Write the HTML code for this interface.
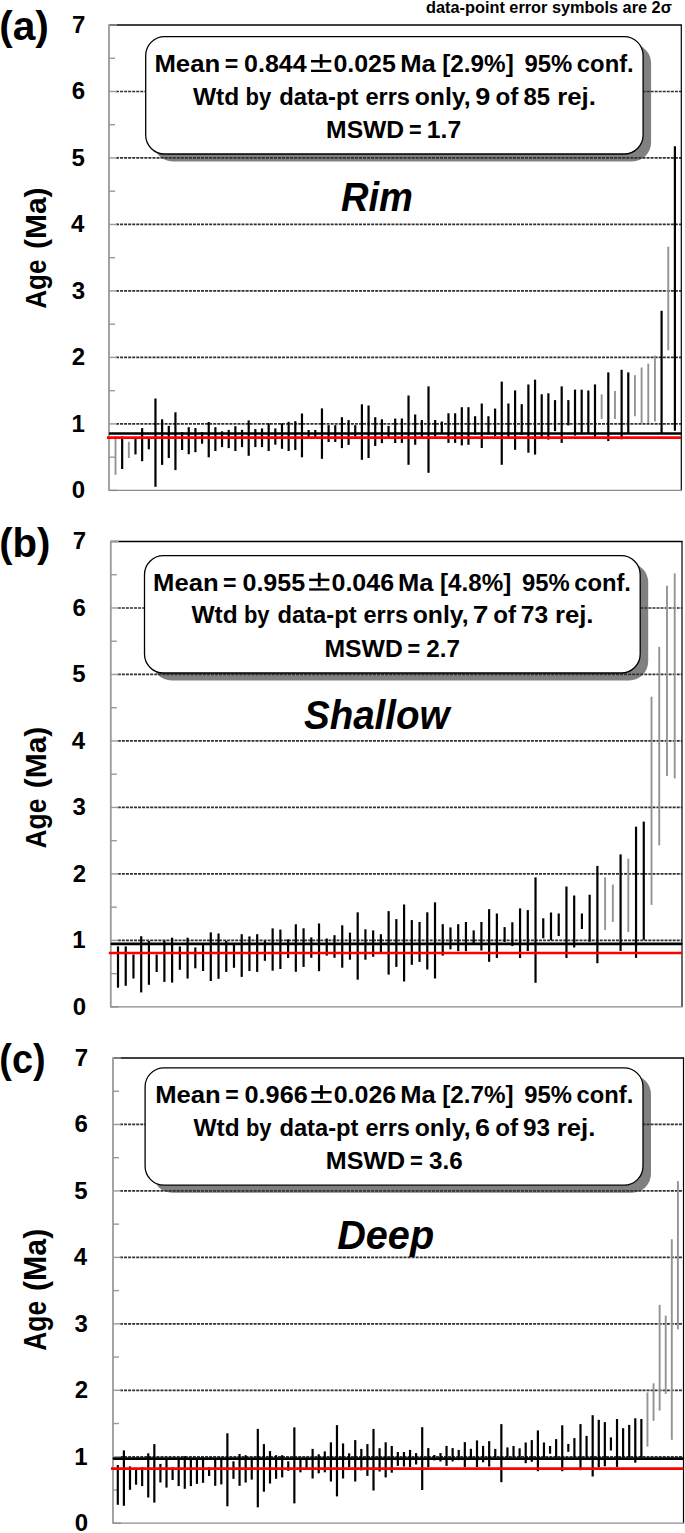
<!DOCTYPE html>
<html><head><meta charset="utf-8"><title>Isoplot weighted mean ages</title>
<style>
html,body{margin:0;padding:0;background:#fff;}
body{width:685px;height:1533px;overflow:hidden;font-family:"Liberation Sans", sans-serif;}
svg{display:block;}
</style></head><body>
<svg width="685" height="1533" viewBox="0 0 685 1533" font-family='"Liberation Sans", sans-serif' font-weight="bold">
<rect x="0" y="0" width="685" height="1533" fill="#fff"/>
<text transform="translate(426.05 13.3) scale(1.0324 1.0000)" font-size="15.8">data-point error symbols are 2σ</text>
<text transform="translate(-0.84 40.29) scale(0.9810 0.9999)" font-size="41.5">(a)</text>
<text transform="translate(46.41 308.75) rotate(-90) scale(0.8704 1)" font-size="29.95">Age</text>
<text transform="translate(46.41 249) rotate(-90) scale(1.0009 1)" font-size="29.95">(Ma)</text>
<text x="71.84" y="498.18" font-size="24">0</text>
<text x="71.48" y="431.69" font-size="24">1</text>
<text x="71.84" y="365.33" font-size="24">2</text>
<text x="71.72" y="298.72" font-size="24">3</text>
<text x="71" y="232.24" font-size="24">4</text>
<text x="71.48" y="165.63" font-size="24">5</text>
<text x="71.72" y="99.27" font-size="24">6</text>
<text x="71.96" y="32.78" font-size="24">7</text>
<rect x="153.7" y="44.1" width="497.4" height="117.4" rx="19" ry="19" fill="#808080"/>
<line x1="116" y1="423.91" x2="681.3" y2="423.91" stroke="#303030" stroke-width="1.7" stroke-dasharray="3 1.05"/>
<line x1="116" y1="357.43" x2="681.3" y2="357.43" stroke="#303030" stroke-width="1.7" stroke-dasharray="3 1.05"/>
<line x1="116" y1="290.94" x2="681.3" y2="290.94" stroke="#303030" stroke-width="1.7" stroke-dasharray="3 1.05"/>
<line x1="116" y1="224.46" x2="681.3" y2="224.46" stroke="#303030" stroke-width="1.7" stroke-dasharray="3 1.05"/>
<line x1="116" y1="157.97" x2="681.3" y2="157.97" stroke="#303030" stroke-width="1.7" stroke-dasharray="3 1.05"/>
<line x1="116" y1="91.49" x2="681.3" y2="91.49" stroke="#303030" stroke-width="1.7" stroke-dasharray="3 1.05"/>
<line x1="109" y1="25" x2="681.9" y2="25" stroke="#000" stroke-width="1.7"/>
<line x1="681.3" y1="25" x2="681.3" y2="490.4" stroke="#000" stroke-width="1.2"/>
<line x1="109" y1="490.4" x2="117" y2="490.4" stroke="#999" stroke-width="1.4"/>
<line x1="109" y1="457.16" x2="115" y2="457.16" stroke="#999" stroke-width="1.4"/>
<line x1="109" y1="423.91" x2="117" y2="423.91" stroke="#999" stroke-width="1.4"/>
<line x1="109" y1="390.67" x2="115" y2="390.67" stroke="#999" stroke-width="1.4"/>
<line x1="109" y1="357.43" x2="117" y2="357.43" stroke="#999" stroke-width="1.4"/>
<line x1="109" y1="324.19" x2="115" y2="324.19" stroke="#999" stroke-width="1.4"/>
<line x1="109" y1="290.94" x2="117" y2="290.94" stroke="#999" stroke-width="1.4"/>
<line x1="109" y1="257.7" x2="115" y2="257.7" stroke="#999" stroke-width="1.4"/>
<line x1="109" y1="224.46" x2="117" y2="224.46" stroke="#999" stroke-width="1.4"/>
<line x1="109" y1="191.21" x2="115" y2="191.21" stroke="#999" stroke-width="1.4"/>
<line x1="109" y1="157.97" x2="117" y2="157.97" stroke="#999" stroke-width="1.4"/>
<line x1="109" y1="124.73" x2="115" y2="124.73" stroke="#999" stroke-width="1.4"/>
<line x1="109" y1="91.49" x2="117" y2="91.49" stroke="#999" stroke-width="1.4"/>
<line x1="109" y1="58.24" x2="115" y2="58.24" stroke="#999" stroke-width="1.4"/>
<line x1="109" y1="25" x2="117" y2="25" stroke="#999" stroke-width="1.4"/>
<line x1="109" y1="24.2" x2="109" y2="491" stroke="#9a9a9a" stroke-width="1.8"/>
<line x1="109" y1="490.4" x2="681.9" y2="490.4" stroke="#8c8c8c" stroke-width="1.3"/>
<rect x="145.7" y="36.6" width="497.4" height="117.4" rx="19" ry="19" fill="#fff" stroke="#000" stroke-width="1.3"/>
<text transform="translate(154.43 72) scale(1.0455 1.0000)" font-size="24.6">Mean</text>
<text transform="translate(224.67 72) scale(0.9418 1.0000)" font-size="24.6">=</text>
<text transform="translate(244.1 72) scale(1.0150 1.0000)" font-size="24.6">0.844</text>
<rect x="311" y="60" width="20.3" height="2.5"/><rect x="319.75" y="54.2" width="2.8" height="13.7"/><rect x="311" y="69.7" width="20.3" height="2.3"/>
<text transform="translate(333.4 72) scale(1.0150 1.0000)" font-size="24.6">0.025</text>
<text transform="translate(400.13 72) scale(1.0414 1.0000)" font-size="24.6">Ma</text>
<text transform="translate(442.26 72) scale(0.9868 1.0000)" font-size="24.6">[2.9%]</text>
<text transform="translate(524.46 72) scale(0.9723 1.0000)" font-size="24.6">95%</text>
<text transform="translate(576.85 72) scale(0.9681 1.0000)" font-size="24.6">conf.</text>
<text transform="translate(193 104.7) scale(0.9962 1.0000)" font-size="24.6">Wtd</text>
<text transform="translate(245.57 104.7) scale(0.8947 1.0000)" font-size="24.6">by</text>
<text transform="translate(279.15 104.7) scale(0.9679 1.0000)" font-size="24.6">data-pt</text>
<text transform="translate(365.46 104.7) scale(0.9567 1.0000)" font-size="24.6">errs</text>
<text transform="translate(414.71 104.7) scale(1.0078 1.0000)" font-size="24.6">only,</text>
<text transform="translate(475.15 104.7) scale(1.0980 1.0000)" font-size="24.6">9</text>
<text transform="translate(495.53 104.7) scale(0.9837 1.0000)" font-size="24.6">of</text>
<text transform="translate(523.48 104.7) scale(0.9748 1.0000)" font-size="24.6">85</text>
<text transform="translate(557.23 104.7) scale(1.0474 1.0000)" font-size="24.6">rej.</text>
<text transform="translate(326.1 137.8) scale(1.0030 1.0000)" font-size="24.6">MSWD</text>
<text transform="translate(408.94 137.8) scale(0.8774 1.0000)" font-size="24.6">=</text>
<text transform="translate(426.79 137.8) scale(1.0067 1.0000)" font-size="24.6">1.7</text>
<text transform="translate(340.94 211.4) scale(0.9191 1.0000)" font-size="41.5" font-style="italic">Rim</text>
<line x1="115.5" y1="436" x2="115.5" y2="474.8" stroke="#939393" stroke-width="1.9"/>
<line x1="122.16" y1="436.4" x2="122.16" y2="469" stroke="#000" stroke-width="2.2"/>
<line x1="128.82" y1="441.8" x2="128.82" y2="458" stroke="#939393" stroke-width="1.9"/>
<line x1="135.48" y1="438.6" x2="135.48" y2="454.4" stroke="#000" stroke-width="2.2"/>
<line x1="142.14" y1="428.1" x2="142.14" y2="461.2" stroke="#000" stroke-width="2.2"/>
<line x1="148.8" y1="438.6" x2="148.8" y2="449.3" stroke="#000" stroke-width="2.2"/>
<line x1="155.46" y1="398.5" x2="155.46" y2="486.8" stroke="#000" stroke-width="2.2"/>
<line x1="162.12" y1="419.3" x2="162.12" y2="464.9" stroke="#000" stroke-width="2.2"/>
<line x1="168.78" y1="425.9" x2="168.78" y2="458" stroke="#000" stroke-width="2.2"/>
<line x1="175.44" y1="412.3" x2="175.44" y2="470.1" stroke="#000" stroke-width="2.2"/>
<line x1="182.1" y1="432" x2="182.1" y2="450" stroke="#000" stroke-width="2.2"/>
<line x1="188.75" y1="427.2" x2="188.75" y2="454.2" stroke="#000" stroke-width="2.2"/>
<line x1="195.41" y1="428.1" x2="195.41" y2="452.2" stroke="#000" stroke-width="2.2"/>
<line x1="202.07" y1="432" x2="202.07" y2="443.7" stroke="#000" stroke-width="2.2"/>
<line x1="208.73" y1="422" x2="208.73" y2="457.3" stroke="#000" stroke-width="2.2"/>
<line x1="215.39" y1="427.2" x2="215.39" y2="451" stroke="#000" stroke-width="2.2"/>
<line x1="222.05" y1="431.3" x2="222.05" y2="447.1" stroke="#000" stroke-width="2.2"/>
<line x1="228.71" y1="429.9" x2="228.71" y2="448.1" stroke="#000" stroke-width="2.2"/>
<line x1="235.37" y1="426.2" x2="235.37" y2="451" stroke="#000" stroke-width="2.2"/>
<line x1="242.03" y1="429.9" x2="242.03" y2="447.1" stroke="#000" stroke-width="2.2"/>
<line x1="248.69" y1="420.4" x2="248.69" y2="455.8" stroke="#000" stroke-width="2.2"/>
<line x1="255.35" y1="429.1" x2="255.35" y2="447.1" stroke="#000" stroke-width="2.2"/>
<line x1="262.01" y1="428.4" x2="262.01" y2="447.1" stroke="#000" stroke-width="2.2"/>
<line x1="268.67" y1="423.3" x2="268.67" y2="451" stroke="#000" stroke-width="2.2"/>
<line x1="275.33" y1="428.4" x2="275.33" y2="444.7" stroke="#000" stroke-width="2.2"/>
<line x1="281.99" y1="423.3" x2="281.99" y2="448.8" stroke="#000" stroke-width="2.2"/>
<line x1="288.65" y1="421.8" x2="288.65" y2="451" stroke="#000" stroke-width="2.2"/>
<line x1="295.31" y1="421.2" x2="295.31" y2="450" stroke="#000" stroke-width="2.2"/>
<line x1="301.97" y1="413.5" x2="301.97" y2="457.3" stroke="#000" stroke-width="2.2"/>
<line x1="308.63" y1="430" x2="308.63" y2="438" stroke="#000" stroke-width="2.2"/>
<line x1="315.29" y1="430" x2="315.29" y2="438" stroke="#000" stroke-width="2.2"/>
<line x1="321.95" y1="408.4" x2="321.95" y2="458.8" stroke="#000" stroke-width="2.2"/>
<line x1="328.6" y1="425.2" x2="328.6" y2="442" stroke="#000" stroke-width="2.2"/>
<line x1="335.26" y1="425.2" x2="335.26" y2="442" stroke="#000" stroke-width="2.2"/>
<line x1="341.92" y1="417.2" x2="341.92" y2="448.1" stroke="#000" stroke-width="2.2"/>
<line x1="348.58" y1="420.1" x2="348.58" y2="444.9" stroke="#000" stroke-width="2.2"/>
<line x1="355.24" y1="425.2" x2="355.24" y2="436.5" stroke="#000" stroke-width="2.2"/>
<line x1="361.9" y1="404.3" x2="361.9" y2="459.8" stroke="#000" stroke-width="2.2"/>
<line x1="368.56" y1="405.5" x2="368.56" y2="458" stroke="#000" stroke-width="2.2"/>
<line x1="375.22" y1="417.2" x2="375.22" y2="446" stroke="#000" stroke-width="2.2"/>
<line x1="381.88" y1="419.3" x2="381.88" y2="443.1" stroke="#000" stroke-width="2.2"/>
<line x1="388.54" y1="425.9" x2="388.54" y2="437.6" stroke="#000" stroke-width="2.2"/>
<line x1="395.2" y1="418.6" x2="395.2" y2="443" stroke="#000" stroke-width="2.2"/>
<line x1="401.86" y1="418.5" x2="401.86" y2="442.9" stroke="#000" stroke-width="2.2"/>
<line x1="408.52" y1="395.5" x2="408.52" y2="464.8" stroke="#000" stroke-width="2.2"/>
<line x1="415.18" y1="414.5" x2="415.18" y2="444.8" stroke="#000" stroke-width="2.2"/>
<line x1="421.84" y1="420" x2="421.84" y2="438.5" stroke="#000" stroke-width="2.2"/>
<line x1="428.5" y1="386.4" x2="428.5" y2="472.8" stroke="#000" stroke-width="2.2"/>
<line x1="435.16" y1="420" x2="435.16" y2="436.4" stroke="#000" stroke-width="2.2"/>
<line x1="441.82" y1="421.5" x2="441.82" y2="433.4" stroke="#000" stroke-width="2.2"/>
<line x1="448.48" y1="413.3" x2="448.48" y2="442.9" stroke="#000" stroke-width="2.2"/>
<line x1="455.14" y1="413.3" x2="455.14" y2="442.9" stroke="#000" stroke-width="2.2"/>
<line x1="461.8" y1="407.2" x2="461.8" y2="445.4" stroke="#000" stroke-width="2.2"/>
<line x1="468.45" y1="407.2" x2="468.45" y2="444.8" stroke="#000" stroke-width="2.2"/>
<line x1="475.11" y1="416.2" x2="475.11" y2="434.9" stroke="#000" stroke-width="2.2"/>
<line x1="481.77" y1="403.5" x2="481.77" y2="448" stroke="#000" stroke-width="2.2"/>
<line x1="488.43" y1="416.2" x2="488.43" y2="434.5" stroke="#000" stroke-width="2.2"/>
<line x1="495.09" y1="408.6" x2="495.09" y2="436.4" stroke="#000" stroke-width="2.2"/>
<line x1="501.75" y1="381.6" x2="501.75" y2="464.8" stroke="#000" stroke-width="2.2"/>
<line x1="508.41" y1="403.5" x2="508.41" y2="438.5" stroke="#000" stroke-width="2.2"/>
<line x1="515.07" y1="390.4" x2="515.07" y2="449.8" stroke="#000" stroke-width="2.2"/>
<line x1="521.73" y1="404.2" x2="521.73" y2="434.9" stroke="#000" stroke-width="2.2"/>
<line x1="528.39" y1="384.5" x2="528.39" y2="452.7" stroke="#000" stroke-width="2.2"/>
<line x1="535.05" y1="379.7" x2="535.05" y2="454.6" stroke="#000" stroke-width="2.2"/>
<line x1="541.71" y1="394.3" x2="541.71" y2="438.5" stroke="#000" stroke-width="2.2"/>
<line x1="548.37" y1="393.3" x2="548.37" y2="439.6" stroke="#000" stroke-width="2.2"/>
<line x1="555.03" y1="400.1" x2="555.03" y2="431.2" stroke="#000" stroke-width="2.2"/>
<line x1="561.69" y1="386.4" x2="561.69" y2="442.9" stroke="#000" stroke-width="2.2"/>
<line x1="568.35" y1="400.1" x2="568.35" y2="425.4" stroke="#000" stroke-width="2.2"/>
<line x1="575.01" y1="389.6" x2="575.01" y2="435.6" stroke="#000" stroke-width="2.2"/>
<line x1="581.67" y1="389.7" x2="581.67" y2="434.5" stroke="#000" stroke-width="2.2"/>
<line x1="588.33" y1="390.5" x2="588.33" y2="433.4" stroke="#000" stroke-width="2.2"/>
<line x1="594.99" y1="384.4" x2="594.99" y2="438.8" stroke="#000" stroke-width="2.2"/>
<line x1="601.65" y1="394.3" x2="601.65" y2="418.9" stroke="#939393" stroke-width="1.9"/>
<line x1="608.3" y1="372.4" x2="608.3" y2="441.1" stroke="#000" stroke-width="2.2"/>
<line x1="614.96" y1="391" x2="614.96" y2="418.9" stroke="#939393" stroke-width="1.9"/>
<line x1="621.62" y1="369.8" x2="621.62" y2="439.3" stroke="#000" stroke-width="2.2"/>
<line x1="628.28" y1="372.4" x2="628.28" y2="433.4" stroke="#000" stroke-width="2.2"/>
<line x1="634.94" y1="375.2" x2="634.94" y2="416.3" stroke="#939393" stroke-width="1.9"/>
<line x1="641.6" y1="367.5" x2="641.6" y2="423" stroke="#939393" stroke-width="1.9"/>
<line x1="648.26" y1="363.7" x2="648.26" y2="423" stroke="#939393" stroke-width="1.9"/>
<line x1="654.92" y1="355.6" x2="654.92" y2="421.5" stroke="#939393" stroke-width="1.9"/>
<line x1="661.58" y1="310.8" x2="661.58" y2="433.4" stroke="#000" stroke-width="2.2"/>
<line x1="668.24" y1="246.7" x2="668.24" y2="350.3" stroke="#939393" stroke-width="1.9"/>
<line x1="674.9" y1="146.2" x2="674.9" y2="430.7" stroke="#000" stroke-width="2.2"/>
<line x1="110" y1="433.5" x2="680.5" y2="433.5" stroke="#000" stroke-width="2.5" stroke-linecap="round"/>
<line x1="107" y1="437.6" x2="681.3" y2="437.6" stroke="#f00" stroke-width="2.7"/>
<text transform="translate(-0.81 556.73) scale(0.9679 0.9948)" font-size="41.5">(b)</text>
<text transform="translate(46.07 848.46) rotate(-90) scale(0.8733 1)" font-size="30.16">Age</text>
<text transform="translate(46.07 788.3) rotate(-90) scale(0.9938 1)" font-size="30.16">(Ma)</text>
<text x="72.64" y="1014.68" font-size="24">0</text>
<text x="72.28" y="948.19" font-size="24">1</text>
<text x="72.64" y="881.83" font-size="24">2</text>
<text x="72.52" y="815.22" font-size="24">3</text>
<text x="71.8" y="748.74" font-size="24">4</text>
<text x="72.28" y="682.13" font-size="24">5</text>
<text x="72.52" y="615.77" font-size="24">6</text>
<text x="72.76" y="549.28" font-size="24">7</text>
<rect x="152.5" y="563.2" width="495.7" height="117.3" rx="19" ry="19" fill="#808080"/>
<line x1="117.8" y1="940.41" x2="682" y2="940.41" stroke="#303030" stroke-width="1.7" stroke-dasharray="3 1.05"/>
<line x1="117.8" y1="873.93" x2="682" y2="873.93" stroke="#303030" stroke-width="1.7" stroke-dasharray="3 1.05"/>
<line x1="117.8" y1="807.44" x2="682" y2="807.44" stroke="#303030" stroke-width="1.7" stroke-dasharray="3 1.05"/>
<line x1="117.8" y1="740.96" x2="682" y2="740.96" stroke="#303030" stroke-width="1.7" stroke-dasharray="3 1.05"/>
<line x1="117.8" y1="674.47" x2="682" y2="674.47" stroke="#303030" stroke-width="1.7" stroke-dasharray="3 1.05"/>
<line x1="117.8" y1="607.99" x2="682" y2="607.99" stroke="#303030" stroke-width="1.7" stroke-dasharray="3 1.05"/>
<line x1="110.8" y1="541.5" x2="682.6" y2="541.5" stroke="#000" stroke-width="1.7"/>
<line x1="682" y1="541.5" x2="682" y2="1006.9" stroke="#000" stroke-width="1.2"/>
<line x1="110.8" y1="1006.9" x2="118.8" y2="1006.9" stroke="#999" stroke-width="1.4"/>
<line x1="110.8" y1="973.66" x2="116.8" y2="973.66" stroke="#999" stroke-width="1.4"/>
<line x1="110.8" y1="940.41" x2="118.8" y2="940.41" stroke="#999" stroke-width="1.4"/>
<line x1="110.8" y1="907.17" x2="116.8" y2="907.17" stroke="#999" stroke-width="1.4"/>
<line x1="110.8" y1="873.93" x2="118.8" y2="873.93" stroke="#999" stroke-width="1.4"/>
<line x1="110.8" y1="840.69" x2="116.8" y2="840.69" stroke="#999" stroke-width="1.4"/>
<line x1="110.8" y1="807.44" x2="118.8" y2="807.44" stroke="#999" stroke-width="1.4"/>
<line x1="110.8" y1="774.2" x2="116.8" y2="774.2" stroke="#999" stroke-width="1.4"/>
<line x1="110.8" y1="740.96" x2="118.8" y2="740.96" stroke="#999" stroke-width="1.4"/>
<line x1="110.8" y1="707.71" x2="116.8" y2="707.71" stroke="#999" stroke-width="1.4"/>
<line x1="110.8" y1="674.47" x2="118.8" y2="674.47" stroke="#999" stroke-width="1.4"/>
<line x1="110.8" y1="641.23" x2="116.8" y2="641.23" stroke="#999" stroke-width="1.4"/>
<line x1="110.8" y1="607.99" x2="118.8" y2="607.99" stroke="#999" stroke-width="1.4"/>
<line x1="110.8" y1="574.74" x2="116.8" y2="574.74" stroke="#999" stroke-width="1.4"/>
<line x1="110.8" y1="541.5" x2="118.8" y2="541.5" stroke="#999" stroke-width="1.4"/>
<line x1="110.8" y1="540.7" x2="110.8" y2="1007.5" stroke="#9a9a9a" stroke-width="1.8"/>
<line x1="110.8" y1="1006.9" x2="682.6" y2="1006.9" stroke="#8c8c8c" stroke-width="1.3"/>
<rect x="144.5" y="555.7" width="495.7" height="117.3" rx="19" ry="19" fill="#fff" stroke="#000" stroke-width="1.3"/>
<text transform="translate(153.03 590.6) scale(1.0425 1.0000)" font-size="24.6">Mean</text>
<text transform="translate(223.07 590.6) scale(0.9390 1.0000)" font-size="24.6">=</text>
<text transform="translate(242.43 590.6) scale(1.0203 1.0000)" font-size="24.6">0.955</text>
<rect x="309.14" y="578.6" width="20.24" height="2.5"/><rect x="317.86" y="572.8" width="2.8" height="13.7"/><rect x="309.14" y="588.3" width="20.24" height="2.3"/>
<text transform="translate(331.48 590.6) scale(1.0162 1.0000)" font-size="24.6">0.046</text>
<text transform="translate(398.02 590.6) scale(1.0383 1.0000)" font-size="24.6">Ma</text>
<text transform="translate(440.02 590.6) scale(0.9839 1.0000)" font-size="24.6">[4.8%]</text>
<text transform="translate(521.98 590.6) scale(0.9694 1.0000)" font-size="24.6">95%</text>
<text transform="translate(574.21 590.6) scale(0.9653 1.0000)" font-size="24.6">conf.</text>
<text transform="translate(191.5 623.4) scale(0.9939 1.0000)" font-size="24.6">Wtd</text>
<text transform="translate(243.95 623.4) scale(0.8927 1.0000)" font-size="24.6">by</text>
<text transform="translate(277.45 623.4) scale(0.9658 1.0000)" font-size="24.6">data-pt</text>
<text transform="translate(363.57 623.4) scale(0.9546 1.0000)" font-size="24.6">errs</text>
<text transform="translate(412.71 623.4) scale(1.0055 1.0000)" font-size="24.6">only,</text>
<text transform="translate(472.7 623.4) scale(1.1426 1.0000)" font-size="24.6">7</text>
<text transform="translate(493.35 623.4) scale(0.9815 1.0000)" font-size="24.6">of</text>
<text transform="translate(520.85 623.4) scale(0.9963 1.0000)" font-size="24.6">73</text>
<text transform="translate(554.91 623.4) scale(1.0451 1.0000)" font-size="24.6">rej.</text>
<text transform="translate(324.49 656.5) scale(1.0060 1.0000)" font-size="24.6">MSWD</text>
<text transform="translate(407.58 656.5) scale(0.8801 1.0000)" font-size="24.6">=</text>
<text transform="translate(426.25 656.5) scale(0.9866 1.0000)" font-size="24.6">2.7</text>
<text transform="translate(303.92 729.4) scale(0.9291 1.0000)" font-size="41.5" font-style="italic">Shallow</text>
<line x1="118" y1="946.4" x2="118" y2="987.7" stroke="#000" stroke-width="2.2"/>
<line x1="125.73" y1="946.4" x2="125.73" y2="985.8" stroke="#000" stroke-width="2.2"/>
<line x1="133.46" y1="954.5" x2="133.46" y2="978.5" stroke="#000" stroke-width="2.2"/>
<line x1="141.2" y1="936.2" x2="141.2" y2="992.4" stroke="#000" stroke-width="2.2"/>
<line x1="148.93" y1="941" x2="148.93" y2="984.8" stroke="#000" stroke-width="2.2"/>
<line x1="156.66" y1="954.5" x2="156.66" y2="972" stroke="#000" stroke-width="2.2"/>
<line x1="164.39" y1="940.6" x2="164.39" y2="981.9" stroke="#000" stroke-width="2.2"/>
<line x1="172.12" y1="937.7" x2="172.12" y2="982.6" stroke="#000" stroke-width="2.2"/>
<line x1="179.86" y1="946.4" x2="179.86" y2="969.8" stroke="#000" stroke-width="2.2"/>
<line x1="187.59" y1="937.7" x2="187.59" y2="978.5" stroke="#000" stroke-width="2.2"/>
<line x1="195.32" y1="947.4" x2="195.32" y2="968.3" stroke="#000" stroke-width="2.2"/>
<line x1="203.05" y1="945" x2="203.05" y2="971" stroke="#000" stroke-width="2.2"/>
<line x1="210.78" y1="932.4" x2="210.78" y2="981" stroke="#000" stroke-width="2.2"/>
<line x1="218.52" y1="933.5" x2="218.52" y2="978.8" stroke="#000" stroke-width="2.2"/>
<line x1="226.25" y1="940.8" x2="226.25" y2="971.9" stroke="#000" stroke-width="2.2"/>
<line x1="233.98" y1="944.5" x2="233.98" y2="967.8" stroke="#000" stroke-width="2.2"/>
<line x1="241.71" y1="934.2" x2="241.71" y2="976.9" stroke="#000" stroke-width="2.2"/>
<line x1="249.44" y1="936.4" x2="249.44" y2="971" stroke="#000" stroke-width="2.2"/>
<line x1="257.18" y1="934.2" x2="257.18" y2="971.9" stroke="#000" stroke-width="2.2"/>
<line x1="264.91" y1="940.8" x2="264.91" y2="960.8" stroke="#000" stroke-width="2.2"/>
<line x1="272.64" y1="928.4" x2="272.64" y2="970.7" stroke="#000" stroke-width="2.2"/>
<line x1="280.37" y1="929.6" x2="280.37" y2="969" stroke="#000" stroke-width="2.2"/>
<line x1="288.1" y1="939.3" x2="288.1" y2="958" stroke="#000" stroke-width="2.2"/>
<line x1="295.83" y1="924.3" x2="295.83" y2="971.8" stroke="#000" stroke-width="2.2"/>
<line x1="303.57" y1="928.3" x2="303.57" y2="966.9" stroke="#000" stroke-width="2.2"/>
<line x1="311.3" y1="937.4" x2="311.3" y2="957.8" stroke="#000" stroke-width="2.2"/>
<line x1="319.03" y1="923.5" x2="319.03" y2="971.2" stroke="#000" stroke-width="2.2"/>
<line x1="326.76" y1="938.5" x2="326.76" y2="955.6" stroke="#000" stroke-width="2.2"/>
<line x1="334.49" y1="935.2" x2="334.49" y2="957.8" stroke="#000" stroke-width="2.2"/>
<line x1="342.23" y1="925.3" x2="342.23" y2="967.7" stroke="#000" stroke-width="2.2"/>
<line x1="349.96" y1="932.6" x2="349.96" y2="959.7" stroke="#000" stroke-width="2.2"/>
<line x1="357.69" y1="912.3" x2="357.69" y2="979.7" stroke="#000" stroke-width="2.2"/>
<line x1="365.42" y1="929.3" x2="365.42" y2="959.7" stroke="#000" stroke-width="2.2"/>
<line x1="373.15" y1="930.4" x2="373.15" y2="956.8" stroke="#000" stroke-width="2.2"/>
<line x1="380.89" y1="934.2" x2="380.89" y2="952.6" stroke="#000" stroke-width="2.2"/>
<line x1="388.62" y1="911.1" x2="388.62" y2="974.6" stroke="#000" stroke-width="2.2"/>
<line x1="396.35" y1="919.1" x2="396.35" y2="966.9" stroke="#000" stroke-width="2.2"/>
<line x1="404.08" y1="904.5" x2="404.08" y2="981.5" stroke="#000" stroke-width="2.2"/>
<line x1="411.81" y1="920.1" x2="411.81" y2="964.8" stroke="#000" stroke-width="2.2"/>
<line x1="419.55" y1="922" x2="419.55" y2="961.9" stroke="#000" stroke-width="2.2"/>
<line x1="427.28" y1="912.3" x2="427.28" y2="969.5" stroke="#000" stroke-width="2.2"/>
<line x1="435.01" y1="902.3" x2="435.01" y2="978.5" stroke="#000" stroke-width="2.2"/>
<line x1="442.74" y1="924.2" x2="442.74" y2="955.6" stroke="#000" stroke-width="2.2"/>
<line x1="450.47" y1="927.4" x2="450.47" y2="949.3" stroke="#000" stroke-width="2.2"/>
<line x1="458.21" y1="924.2" x2="458.21" y2="951.2" stroke="#000" stroke-width="2.2"/>
<line x1="465.94" y1="922" x2="465.94" y2="951.2" stroke="#000" stroke-width="2.2"/>
<line x1="473.67" y1="930.4" x2="473.67" y2="944" stroke="#000" stroke-width="2.2"/>
<line x1="481.4" y1="922" x2="481.4" y2="950.5" stroke="#000" stroke-width="2.2"/>
<line x1="489.13" y1="909.2" x2="489.13" y2="961.8" stroke="#000" stroke-width="2.2"/>
<line x1="496.87" y1="913.5" x2="496.87" y2="958" stroke="#000" stroke-width="2.2"/>
<line x1="504.6" y1="927.1" x2="504.6" y2="942" stroke="#000" stroke-width="2.2"/>
<line x1="512.33" y1="922.3" x2="512.33" y2="946.1" stroke="#000" stroke-width="2.2"/>
<line x1="520.06" y1="908.4" x2="520.06" y2="958" stroke="#000" stroke-width="2.2"/>
<line x1="527.79" y1="910.1" x2="527.79" y2="951" stroke="#000" stroke-width="2.2"/>
<line x1="535.53" y1="877.4" x2="535.53" y2="982.8" stroke="#000" stroke-width="2.2"/>
<line x1="543.26" y1="918.3" x2="543.26" y2="938.3" stroke="#000" stroke-width="2.2"/>
<line x1="550.99" y1="912.5" x2="550.99" y2="940.2" stroke="#000" stroke-width="2.2"/>
<line x1="558.72" y1="913.5" x2="558.72" y2="936.1" stroke="#000" stroke-width="2.2"/>
<line x1="566.45" y1="886.5" x2="566.45" y2="958" stroke="#000" stroke-width="2.2"/>
<line x1="574.18" y1="895.5" x2="574.18" y2="947.5" stroke="#000" stroke-width="2.2"/>
<line x1="581.92" y1="913.5" x2="581.92" y2="929" stroke="#000" stroke-width="2.2"/>
<line x1="589.65" y1="894.7" x2="589.65" y2="941.8" stroke="#000" stroke-width="2.2"/>
<line x1="597.38" y1="865.9" x2="597.38" y2="963.2" stroke="#000" stroke-width="2.2"/>
<line x1="605.11" y1="877.4" x2="605.11" y2="930" stroke="#939393" stroke-width="1.9"/>
<line x1="612.84" y1="884.6" x2="612.84" y2="921.9" stroke="#939393" stroke-width="1.9"/>
<line x1="620.58" y1="854.4" x2="620.58" y2="951" stroke="#000" stroke-width="2.2"/>
<line x1="628.31" y1="858.6" x2="628.31" y2="932.1" stroke="#939393" stroke-width="1.9"/>
<line x1="636.04" y1="826.7" x2="636.04" y2="957.9" stroke="#000" stroke-width="2.2"/>
<line x1="643.77" y1="821.6" x2="643.77" y2="939.8" stroke="#000" stroke-width="2.2"/>
<line x1="651.5" y1="696.7" x2="651.5" y2="904.9" stroke="#939393" stroke-width="1.9"/>
<line x1="659.24" y1="646.9" x2="659.24" y2="845.3" stroke="#939393" stroke-width="1.9"/>
<line x1="666.97" y1="585.8" x2="666.97" y2="776.1" stroke="#939393" stroke-width="1.9"/>
<line x1="674.7" y1="573.4" x2="674.7" y2="778.4" stroke="#939393" stroke-width="1.9"/>
<line x1="111.8" y1="943.9" x2="681.2" y2="943.9" stroke="#000" stroke-width="2.6" stroke-linecap="round"/>
<line x1="108.8" y1="953" x2="682" y2="953" stroke="#f00" stroke-width="2.7"/>
<text transform="translate(-0.69 1072.69) scale(0.9124 0.9999)" font-size="41.5">(c)</text>
<text transform="translate(45.91 1350.66) rotate(-90) scale(0.8521 1)" font-size="30.91">Age</text>
<text transform="translate(45.91 1291.02) rotate(-90) scale(0.9813 1)" font-size="30.91">(Ma)</text>
<text x="74.64" y="1530.98" font-size="24">0</text>
<text x="74.28" y="1464.52" font-size="24">1</text>
<text x="74.64" y="1398.19" font-size="24">2</text>
<text x="74.52" y="1331.61" font-size="24">3</text>
<text x="73.8" y="1265.15" font-size="24">4</text>
<text x="74.28" y="1198.57" font-size="24">5</text>
<text x="74.52" y="1132.24" font-size="24">6</text>
<text x="74.76" y="1065.78" font-size="24">7</text>
<rect x="153.1" y="1075.3" width="497.9" height="117.4" rx="19" ry="19" fill="#808080"/>
<line x1="120" y1="1456.74" x2="683.5" y2="1456.74" stroke="#303030" stroke-width="1.7" stroke-dasharray="3 1.05"/>
<line x1="120" y1="1390.29" x2="683.5" y2="1390.29" stroke="#303030" stroke-width="1.7" stroke-dasharray="3 1.05"/>
<line x1="120" y1="1323.83" x2="683.5" y2="1323.83" stroke="#303030" stroke-width="1.7" stroke-dasharray="3 1.05"/>
<line x1="120" y1="1257.37" x2="683.5" y2="1257.37" stroke="#303030" stroke-width="1.7" stroke-dasharray="3 1.05"/>
<line x1="120" y1="1190.91" x2="683.5" y2="1190.91" stroke="#303030" stroke-width="1.7" stroke-dasharray="3 1.05"/>
<line x1="120" y1="1124.46" x2="683.5" y2="1124.46" stroke="#303030" stroke-width="1.7" stroke-dasharray="3 1.05"/>
<line x1="113" y1="1058" x2="684.1" y2="1058" stroke="#000" stroke-width="1.7"/>
<line x1="683.5" y1="1058" x2="683.5" y2="1523.2" stroke="#000" stroke-width="1.2"/>
<line x1="113" y1="1523.2" x2="121" y2="1523.2" stroke="#999" stroke-width="1.4"/>
<line x1="113" y1="1489.97" x2="119" y2="1489.97" stroke="#999" stroke-width="1.4"/>
<line x1="113" y1="1456.74" x2="121" y2="1456.74" stroke="#999" stroke-width="1.4"/>
<line x1="113" y1="1423.51" x2="119" y2="1423.51" stroke="#999" stroke-width="1.4"/>
<line x1="113" y1="1390.29" x2="121" y2="1390.29" stroke="#999" stroke-width="1.4"/>
<line x1="113" y1="1357.06" x2="119" y2="1357.06" stroke="#999" stroke-width="1.4"/>
<line x1="113" y1="1323.83" x2="121" y2="1323.83" stroke="#999" stroke-width="1.4"/>
<line x1="113" y1="1290.6" x2="119" y2="1290.6" stroke="#999" stroke-width="1.4"/>
<line x1="113" y1="1257.37" x2="121" y2="1257.37" stroke="#999" stroke-width="1.4"/>
<line x1="113" y1="1224.14" x2="119" y2="1224.14" stroke="#999" stroke-width="1.4"/>
<line x1="113" y1="1190.91" x2="121" y2="1190.91" stroke="#999" stroke-width="1.4"/>
<line x1="113" y1="1157.69" x2="119" y2="1157.69" stroke="#999" stroke-width="1.4"/>
<line x1="113" y1="1124.46" x2="121" y2="1124.46" stroke="#999" stroke-width="1.4"/>
<line x1="113" y1="1091.23" x2="119" y2="1091.23" stroke="#999" stroke-width="1.4"/>
<line x1="113" y1="1058" x2="121" y2="1058" stroke="#999" stroke-width="1.4"/>
<line x1="113" y1="1057.2" x2="113" y2="1523.8" stroke="#9a9a9a" stroke-width="1.8"/>
<line x1="113" y1="1523.2" x2="684.1" y2="1523.2" stroke="#8c8c8c" stroke-width="1.3"/>
<rect x="145.1" y="1067.8" width="497.9" height="117.4" rx="19" ry="19" fill="#fff" stroke="#000" stroke-width="1.3"/>
<text transform="translate(155.13 1103) scale(1.0431 1.0000)" font-size="24.6">Mean</text>
<text transform="translate(225.21 1103) scale(0.9396 1.0000)" font-size="24.6">=</text>
<text transform="translate(244.59 1103) scale(1.0252 1.0000)" font-size="24.6">0.966</text>
<rect x="311.34" y="1091" width="20.25" height="2.5"/><rect x="320.07" y="1085.2" width="2.8" height="13.7"/><rect x="311.34" y="1100.7" width="20.25" height="2.3"/>
<text transform="translate(333.69 1103) scale(1.0168 1.0000)" font-size="24.6">0.026</text>
<text transform="translate(400.27 1103) scale(1.0390 1.0000)" font-size="24.6">Ma</text>
<text transform="translate(442.3 1103) scale(0.9845 1.0000)" font-size="24.6">[2.7%]</text>
<text transform="translate(524.31 1103) scale(0.9700 1.0000)" font-size="24.6">95%</text>
<text transform="translate(576.58 1103) scale(0.9659 1.0000)" font-size="24.6">conf.</text>
<text transform="translate(193.5 1135.7) scale(0.9937 1.0000)" font-size="24.6">Wtd</text>
<text transform="translate(245.94 1135.7) scale(0.8925 1.0000)" font-size="24.6">by</text>
<text transform="translate(279.43 1135.7) scale(0.9655 1.0000)" font-size="24.6">data-pt</text>
<text transform="translate(365.53 1135.7) scale(0.9544 1.0000)" font-size="24.6">errs</text>
<text transform="translate(414.66 1135.7) scale(1.0052 1.0000)" font-size="24.6">only,</text>
<text transform="translate(474.95 1135.7) scale(1.0952 1.0000)" font-size="24.6">6</text>
<text transform="translate(495.28 1135.7) scale(0.9812 1.0000)" font-size="24.6">of</text>
<text transform="translate(523.03 1135.7) scale(0.9864 1.0000)" font-size="24.6">93</text>
<text transform="translate(556.82 1135.7) scale(1.0448 1.0000)" font-size="24.6">rej.</text>
<text transform="translate(325.77 1169) scale(1.0189 1.0000)" font-size="24.6">MSWD</text>
<text transform="translate(409.93 1169) scale(0.8913 1.0000)" font-size="24.6">=</text>
<text transform="translate(429.09 1169) scale(0.9843 1.0000)" font-size="24.6">3.6</text>
<text transform="translate(337.21 1249) scale(0.9548 1.0000)" font-size="41.5" font-style="italic">Deep</text>
<line x1="117.8" y1="1465" x2="117.8" y2="1504.8" stroke="#000" stroke-width="2.2"/>
<line x1="123.89" y1="1450.4" x2="123.89" y2="1505.8" stroke="#000" stroke-width="2.2"/>
<line x1="129.98" y1="1466.4" x2="129.98" y2="1489.8" stroke="#000" stroke-width="2.2"/>
<line x1="136.06" y1="1469" x2="136.06" y2="1484.7" stroke="#000" stroke-width="2.2"/>
<line x1="142.15" y1="1467.4" x2="142.15" y2="1486.1" stroke="#000" stroke-width="2.2"/>
<line x1="148.24" y1="1453.3" x2="148.24" y2="1497.5" stroke="#000" stroke-width="2.2"/>
<line x1="154.33" y1="1444.1" x2="154.33" y2="1502.6" stroke="#000" stroke-width="2.2"/>
<line x1="160.42" y1="1463.9" x2="160.42" y2="1482.5" stroke="#000" stroke-width="2.2"/>
<line x1="166.5" y1="1459.1" x2="166.5" y2="1487.6" stroke="#000" stroke-width="2.2"/>
<line x1="172.59" y1="1467.4" x2="172.59" y2="1480" stroke="#000" stroke-width="2.2"/>
<line x1="178.68" y1="1459.1" x2="178.68" y2="1486.1" stroke="#000" stroke-width="2.2"/>
<line x1="184.77" y1="1456.2" x2="184.77" y2="1488.8" stroke="#000" stroke-width="2.2"/>
<line x1="190.86" y1="1459.1" x2="190.86" y2="1486.1" stroke="#000" stroke-width="2.2"/>
<line x1="196.94" y1="1459.1" x2="196.94" y2="1483.9" stroke="#000" stroke-width="2.2"/>
<line x1="203.03" y1="1459.1" x2="203.03" y2="1482.8" stroke="#000" stroke-width="2.2"/>
<line x1="209.12" y1="1467.4" x2="209.12" y2="1476" stroke="#000" stroke-width="2.2"/>
<line x1="215.21" y1="1458.4" x2="215.21" y2="1485.8" stroke="#000" stroke-width="2.2"/>
<line x1="221.3" y1="1458.4" x2="221.3" y2="1484.4" stroke="#000" stroke-width="2.2"/>
<line x1="227.38" y1="1433.3" x2="227.38" y2="1506.3" stroke="#000" stroke-width="2.2"/>
<line x1="233.47" y1="1461.3" x2="233.47" y2="1478.8" stroke="#000" stroke-width="2.2"/>
<line x1="239.56" y1="1454" x2="239.56" y2="1485.8" stroke="#000" stroke-width="2.2"/>
<line x1="245.65" y1="1455.2" x2="245.65" y2="1482.5" stroke="#000" stroke-width="2.2"/>
<line x1="251.74" y1="1458.4" x2="251.74" y2="1479.6" stroke="#000" stroke-width="2.2"/>
<line x1="257.82" y1="1428.9" x2="257.82" y2="1507.3" stroke="#000" stroke-width="2.2"/>
<line x1="263.91" y1="1444.1" x2="263.91" y2="1491.7" stroke="#000" stroke-width="2.2"/>
<line x1="270" y1="1451.1" x2="270" y2="1483.5" stroke="#000" stroke-width="2.2"/>
<line x1="276.09" y1="1455.2" x2="276.09" y2="1478.8" stroke="#000" stroke-width="2.2"/>
<line x1="282.18" y1="1455.2" x2="282.18" y2="1477.4" stroke="#000" stroke-width="2.2"/>
<line x1="288.27" y1="1461.3" x2="288.27" y2="1470.8" stroke="#000" stroke-width="2.2"/>
<line x1="294.35" y1="1427.4" x2="294.35" y2="1503.4" stroke="#000" stroke-width="2.2"/>
<line x1="300.44" y1="1458" x2="300.44" y2="1472.3" stroke="#000" stroke-width="2.2"/>
<line x1="306.53" y1="1457.7" x2="306.53" y2="1468.6" stroke="#000" stroke-width="2.2"/>
<line x1="312.62" y1="1448.9" x2="312.62" y2="1478.5" stroke="#000" stroke-width="2.2"/>
<line x1="318.71" y1="1454.3" x2="318.71" y2="1473.3" stroke="#000" stroke-width="2.2"/>
<line x1="324.79" y1="1451.4" x2="324.79" y2="1472.3" stroke="#000" stroke-width="2.2"/>
<line x1="330.88" y1="1442.3" x2="330.88" y2="1481.5" stroke="#000" stroke-width="2.2"/>
<line x1="336.97" y1="1425.1" x2="336.97" y2="1496.4" stroke="#000" stroke-width="2.2"/>
<line x1="343.06" y1="1443.4" x2="343.06" y2="1478.5" stroke="#000" stroke-width="2.2"/>
<line x1="349.15" y1="1453.3" x2="349.15" y2="1467.2" stroke="#000" stroke-width="2.2"/>
<line x1="355.23" y1="1440.1" x2="355.23" y2="1481.5" stroke="#000" stroke-width="2.2"/>
<line x1="361.32" y1="1448.9" x2="361.32" y2="1470.4" stroke="#000" stroke-width="2.2"/>
<line x1="367.41" y1="1444.1" x2="367.41" y2="1475.9" stroke="#000" stroke-width="2.2"/>
<line x1="373.5" y1="1428.9" x2="373.5" y2="1490.5" stroke="#000" stroke-width="2.2"/>
<line x1="379.59" y1="1448.2" x2="379.59" y2="1471.5" stroke="#000" stroke-width="2.2"/>
<line x1="385.67" y1="1442.3" x2="385.67" y2="1477.4" stroke="#000" stroke-width="2.2"/>
<line x1="391.76" y1="1446" x2="391.76" y2="1472.7" stroke="#000" stroke-width="2.2"/>
<line x1="397.85" y1="1452" x2="397.85" y2="1465.9" stroke="#000" stroke-width="2.2"/>
<line x1="403.94" y1="1452" x2="403.94" y2="1466.6" stroke="#000" stroke-width="2.2"/>
<line x1="410.03" y1="1449.9" x2="410.03" y2="1467.1" stroke="#000" stroke-width="2.2"/>
<line x1="416.11" y1="1453.1" x2="416.11" y2="1464.5" stroke="#000" stroke-width="2.2"/>
<line x1="422.2" y1="1427.2" x2="422.2" y2="1490" stroke="#000" stroke-width="2.2"/>
<line x1="428.29" y1="1448.1" x2="428.29" y2="1467.1" stroke="#000" stroke-width="2.2"/>
<line x1="434.38" y1="1455" x2="434.38" y2="1460.4" stroke="#000" stroke-width="2.2"/>
<line x1="440.47" y1="1453.1" x2="440.47" y2="1461.5" stroke="#000" stroke-width="2.2"/>
<line x1="446.55" y1="1445.9" x2="446.55" y2="1465.9" stroke="#000" stroke-width="2.2"/>
<line x1="452.64" y1="1448.1" x2="452.64" y2="1461.5" stroke="#000" stroke-width="2.2"/>
<line x1="458.73" y1="1449.9" x2="458.73" y2="1460.1" stroke="#000" stroke-width="2.2"/>
<line x1="464.82" y1="1442.1" x2="464.82" y2="1467.1" stroke="#000" stroke-width="2.2"/>
<line x1="470.91" y1="1448.8" x2="470.91" y2="1458.6" stroke="#000" stroke-width="2.2"/>
<line x1="476.99" y1="1440.4" x2="476.99" y2="1467.1" stroke="#000" stroke-width="2.2"/>
<line x1="483.08" y1="1445.9" x2="483.08" y2="1462.3" stroke="#000" stroke-width="2.2"/>
<line x1="489.17" y1="1441.2" x2="489.17" y2="1466.6" stroke="#000" stroke-width="2.2"/>
<line x1="495.26" y1="1448.9" x2="495.26" y2="1457.4" stroke="#000" stroke-width="2.2"/>
<line x1="501.35" y1="1424.1" x2="501.35" y2="1482.2" stroke="#000" stroke-width="2.2"/>
<line x1="507.43" y1="1447.4" x2="507.43" y2="1457.4" stroke="#000" stroke-width="2.2"/>
<line x1="513.52" y1="1446" x2="513.52" y2="1457.4" stroke="#000" stroke-width="2.2"/>
<line x1="519.61" y1="1448.3" x2="519.61" y2="1457.4" stroke="#000" stroke-width="2.2"/>
<line x1="525.7" y1="1442.5" x2="525.7" y2="1463.2" stroke="#000" stroke-width="2.2"/>
<line x1="531.79" y1="1440.1" x2="531.79" y2="1461.8" stroke="#000" stroke-width="2.2"/>
<line x1="537.88" y1="1430.4" x2="537.88" y2="1471.2" stroke="#000" stroke-width="2.2"/>
<line x1="543.96" y1="1442.5" x2="543.96" y2="1457.4" stroke="#000" stroke-width="2.2"/>
<line x1="550.05" y1="1446" x2="550.05" y2="1453.7" stroke="#000" stroke-width="2.2"/>
<line x1="556.14" y1="1439.1" x2="556.14" y2="1457.4" stroke="#000" stroke-width="2.2"/>
<line x1="562.23" y1="1425.3" x2="562.23" y2="1471.2" stroke="#000" stroke-width="2.2"/>
<line x1="568.32" y1="1443.9" x2="568.32" y2="1451.8" stroke="#000" stroke-width="2.2"/>
<line x1="574.4" y1="1438.1" x2="574.4" y2="1457.4" stroke="#000" stroke-width="2.2"/>
<line x1="580.49" y1="1424.1" x2="580.49" y2="1470.2" stroke="#000" stroke-width="2.2"/>
<line x1="586.58" y1="1435.9" x2="586.58" y2="1457.4" stroke="#000" stroke-width="2.2"/>
<line x1="592.67" y1="1415.2" x2="592.67" y2="1476.5" stroke="#000" stroke-width="2.2"/>
<line x1="598.76" y1="1419.8" x2="598.76" y2="1467.3" stroke="#000" stroke-width="2.2"/>
<line x1="604.84" y1="1422.1" x2="604.84" y2="1466.3" stroke="#000" stroke-width="2.2"/>
<line x1="610.93" y1="1437.4" x2="610.93" y2="1450.5" stroke="#000" stroke-width="2.2"/>
<line x1="617.02" y1="1419" x2="617.02" y2="1466.9" stroke="#000" stroke-width="2.2"/>
<line x1="623.11" y1="1428.2" x2="623.11" y2="1457.4" stroke="#000" stroke-width="2.2"/>
<line x1="629.2" y1="1424.9" x2="629.2" y2="1457.4" stroke="#000" stroke-width="2.2"/>
<line x1="635.28" y1="1418.3" x2="635.28" y2="1462.7" stroke="#000" stroke-width="2.2"/>
<line x1="641.37" y1="1419" x2="641.37" y2="1457.4" stroke="#000" stroke-width="2.2"/>
<line x1="647.46" y1="1392.4" x2="647.46" y2="1446.6" stroke="#939393" stroke-width="1.9"/>
<line x1="653.55" y1="1383.3" x2="653.55" y2="1420.8" stroke="#939393" stroke-width="1.9"/>
<line x1="659.64" y1="1304.8" x2="659.64" y2="1410.5" stroke="#939393" stroke-width="1.9"/>
<line x1="665.72" y1="1315.6" x2="665.72" y2="1393.9" stroke="#939393" stroke-width="1.9"/>
<line x1="671.81" y1="1239.3" x2="671.81" y2="1439.8" stroke="#939393" stroke-width="1.9"/>
<line x1="677.9" y1="1181.1" x2="677.9" y2="1329.3" stroke="#939393" stroke-width="1.9"/>
<line x1="114" y1="1458.6" x2="682.7" y2="1458.6" stroke="#000" stroke-width="2.9" stroke-linecap="round"/>
<line x1="111" y1="1468.7" x2="683.5" y2="1468.7" stroke="#f00" stroke-width="2.7"/>
</svg>
</body></html>
